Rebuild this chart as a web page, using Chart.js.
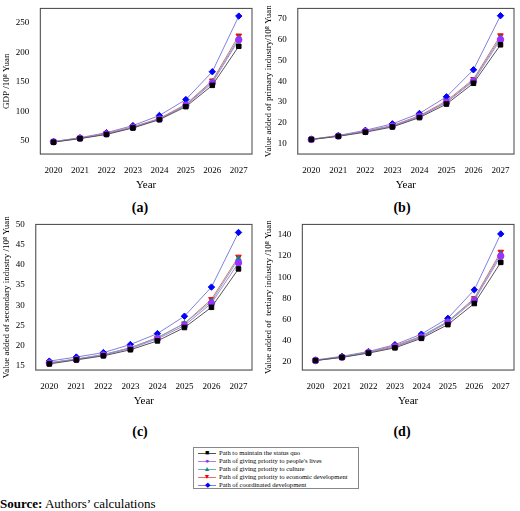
<!DOCTYPE html><html><head><meta charset="utf-8">
<script src="https://cdn.jsdelivr.net/npm/chart.js@4"></script>
<style>
body{margin:0;width:520px;height:511px;background:#fff;position:relative;font-family:"Liberation Serif",serif;overflow:hidden}
.p{position:absolute;width:260px;height:192px}
.lab{position:absolute;font-weight:bold;font-size:14px;width:40px;text-align:center}
#leg{position:absolute;left:193px;top:447px;width:166px;height:42px;border:1px solid #888;font-size:6.6px;line-height:8px;padding:1px 0 0 4px;box-sizing:border-box}
#leg div{white-space:nowrap;display:flex;align-items:center}
#leg span.m{display:inline-block;width:18px;text-align:center;font-size:7px;margin-right:3px}
#src{position:absolute;left:0;top:496px;font-size:13px}
</style></head><body>
<div class="p" style="left:0;top:0"><canvas id="c0"></canvas></div>
<div class="p" style="left:262px;top:0"><canvas id="c1"></canvas></div>
<div class="p" style="left:0;top:216px"><canvas id="c2"></canvas></div>
<div class="p" style="left:262px;top:216px"><canvas id="c3"></canvas></div>
<div class="lab" style="left:120px;top:200px">(a)</div>
<div class="lab" style="left:382px;top:200px">(b)</div>
<div class="lab" style="left:120px;top:424px">(c)</div>
<div class="lab" style="left:382px;top:424px">(d)</div>
<div id="leg"></div>
<div id="src"><b>Source:</b> Authors’ calculations</div>
<script>
const years=['2020','2021','2022','2023','2024','2025','2026','2027'];
const seriesNames=['Path to maintain the status quo','Path of giving priority to people\'s lives','Path of giving priority to culture','Path of giving priority to economic development','Path of coordinated development'];
const gdp=[[48,54,61,72,86,108,144,210],[48.5,54.5,62,73,87,110,148,221],[48.5,54.5,62,73,87,111,150,224],[49,55,63,74,88,112,152,228],[49,55.5,64,76,93,120,167,261]];
const primary=[[12,13.5,15.5,18,22.5,29,39,57.5],[12,13.6,15.8,18.4,23,29.8,40,60],[12,13.6,15.9,18.5,23,30,40.5,61],[12,13.7,16,18.7,23.4,30.5,41,62],[12.1,13.9,16.4,19.5,24.5,32.5,45.5,71.5]];
const secondary=[[15.5,16.5,17.5,19,21.2,24.5,29.5,39],[15.7,16.6,17.7,19.3,21.7,25,30.5,40.5],[15.8,16.7,17.8,19.5,22,25.5,31,41.5],[15.8,16.7,17.8,19.5,22,25.5,31.5,42],[16.2,17.2,18.3,20.3,23,27.3,34.5,48]];
const tertiary=[[21,24,28,33,42,55,75,114],[21,24,28.5,34,43,57,78,120],[21,24.5,29,34,44,58,79,122],[21,24.5,29,35,44,58,80,124],[21.5,25,29.5,36,46,61,88,141]];
const yTicks={c0:[50,100,150,200,250],c1:[10,20,30,40,50,60,70],c2:[15,20,25,30,35,40,45,50],c3:[20,40,60,80,100,120,140]};
const colors=['#000000','#9933ff','#008b8b','#ff0000','#0000ff'];
const lineColors=['#555555','#b080e0','#70b0b0','#e07070','#8080e0'];
const shapes=['rect','circle','triangle','triangle','rectRot'];
const rots=[0,0,0,180,0];
const glyph=['■','●','▲','▼','◆'];
const leg=document.getElementById('leg');
seriesNames.forEach((n,i)=>{leg.innerHTML+=`<div><span class="m" style="color:${colors[i]};background:linear-gradient(${lineColors[i]},${lineColors[i]}) center/100% 1px no-repeat">${glyph[i]}</span>${n}</div>`});
const box={id:'box',afterDraw(c){const a=c.chartArea,x=c.ctx;x.save();x.strokeStyle='#444';x.lineWidth=1;x.strokeRect(a.left,a.top,a.right-a.left,a.bottom-a.top);x.restore();}};
function make(id,data,title,min,max){
 new Chart(document.getElementById(id),{type:'line',
 data:{labels:years,datasets:data.map((d,i)=>({label:seriesNames[i],data:d,borderColor:lineColors[i],backgroundColor:colors[i],pointBorderColor:colors[i],borderWidth:1,pointStyle:shapes[i],rotation:rots[i],pointRadius:3.2,tension:0}))},
 options:{responsive:false,animation:false,devicePixelRatio:1,layout:{padding:{right:6,top:2}},
 plugins:{legend:{display:false},tooltip:{enabled:false}},
 scales:{x:{offset:true,grid:{display:false},ticks:{color:'#000',font:{family:'Liberation Serif',size:9}},title:{display:true,text:'Year',color:'#000',font:{family:'Liberation Serif',size:11},padding:0}},
 y:{min:min,max:max,grid:{display:false},afterBuildTicks:s=>{s.ticks=yTicks[id].map(v=>({value:v}));},ticks:{color:'#000',font:{family:'Liberation Serif',size:9}},title:{display:true,text:title,color:'#000',font:{family:'Liberation Serif',size:9},padding:1}}}},
 plugins:[box]});
}
['c0','c1','c2','c3'].forEach(i=>{const c=document.getElementById(i);c.width=258;c.height=192;});
make('c0',gdp,'GDP /10⁸ Yuan',28,274);
make('c1',primary,'Value added of primary industry/10⁸ Yuan',5,75);
make('c2',secondary,'Value added of secondary industry /10⁸ Yuan',14,50);
make('c3',tertiary,'Value added of  tertiary industry /10⁸ Yuan',12,150);
</script></body></html>
